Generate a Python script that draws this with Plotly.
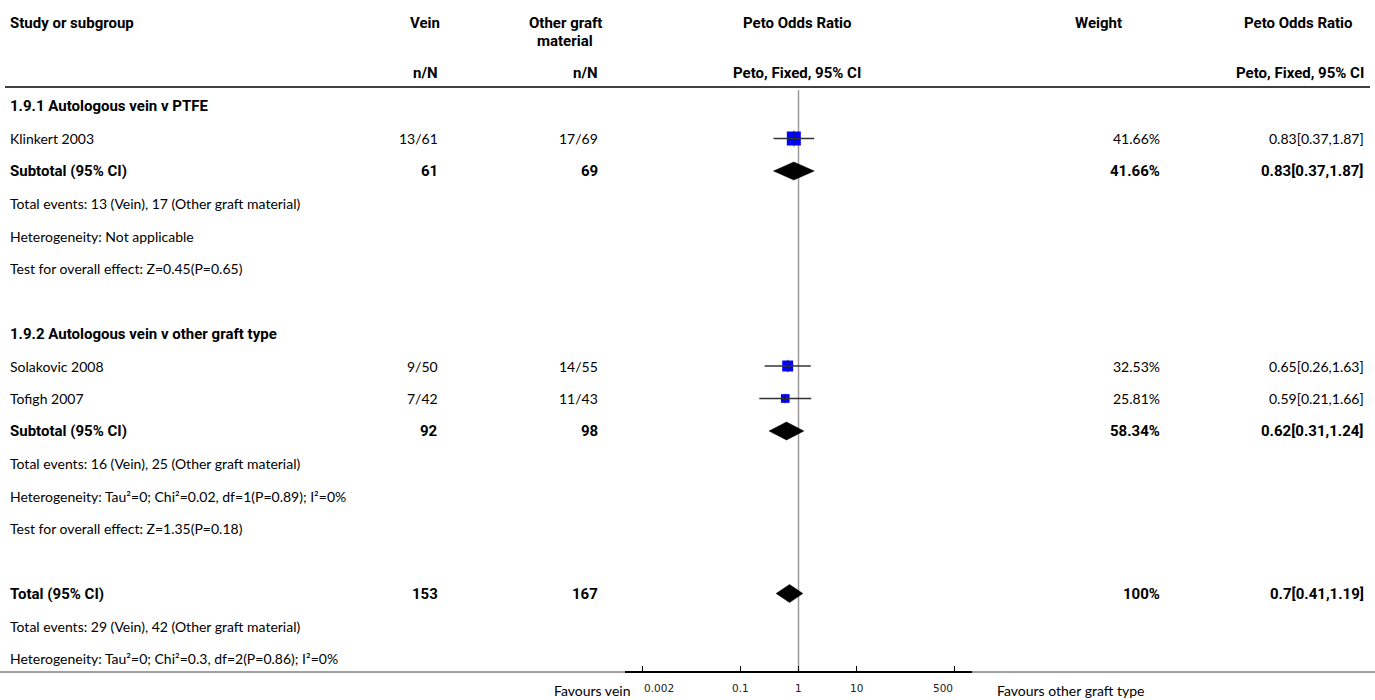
import math
import plotly.graph_objects as go

# ---------------- data ----------------
studies = ["Klinkert 2003", "Solakovic 2008", "Tofigh 2007"]
study_group = [0, 1, 1]
vein_events = [13, 9, 7]
vein_total = [61, 50, 42]
other_events = [17, 14, 11]
other_total = [69, 55, 43]
study_or = [0.83, 0.65, 0.59]
study_lo = [0.37, 0.26, 0.21]
study_hi = [1.87, 1.63, 1.66]
study_weight = [41.66, 32.53, 25.81]

group_titles = ["1.9.1 Autologous vein v PTFE", "1.9.2 Autologous vein v other graft type"]
group_vein_total = [61, 92]
group_other_total = [69, 98]
group_weight = [41.66, 58.34]
group_or = [0.83, 0.62]
group_lo = [0.37, 0.31]
group_hi = [1.87, 1.24]
group_events = ["Total events: 13 (Vein), 17 (Other graft material)",
                "Total events: 16 (Vein), 25 (Other graft material)"]
group_het = ["Heterogeneity: Not applicable",
             "Heterogeneity: Tau²=0; Chi²=0.02, df=1(P=0.89); I²=0%"]
group_test = ["Test for overall effect: Z=0.45(P=0.65)",
              "Test for overall effect: Z=1.35(P=0.18)"]

total_vein = 153
total_other = 167
total_weight = 100
total_or, total_lo, total_hi = 0.7, 0.41, 1.19
total_events = "Total events: 29 (Vein), 42 (Other graft material)"
total_het = "Heterogeneity: Tau²=0; Chi²=0.3, df=2(P=0.86); I²=0%"

tick_vals = [0.002, 0.1, 1, 10, 500]
tick_text = ["0.002", "0.1", "1", "10", "500"]

# ---------------- layout constants ----------------
W, H = 1375, 700
ROW0_PX, ROW_PX = 106, 32.5        # pixel centre of first row, row pitch
AXIS_PX = 672                      # pixel row of the x axis line
PLOT_X0, PLOT_X1 = 625, 972        # pixel extent of the forest axis
FONT = "Lato"
FONT_BOLD = "Roboto"
FS = 14
FS_BOLD = 15
BLUE = "#0000ff"

X_LABEL = 8
X_VEIN = 440
X_OTHER = 600
X_WEIGHT = 1162
X_CI = 1366


def px2row(p):
    return (p - ROW0_PX) / ROW_PX


def fmt_w(w):
    return f"{w:g}%"


def fmt_ci(o, lo, hi):
    return f"{o:g}[{lo:g},{hi:g}]"


fig = go.Figure()
annotations = []


def text(x, row, s, anchor="left", bold=False, yref="y"):
    annotations.append(dict(
        x=x / W, xref="paper", y=row, yref=yref, text=f"<b>{s}</b>" if bold else s,
        showarrow=False, xanchor=anchor, yanchor="middle",
        font=dict(family=FONT_BOLD if bold else FONT,
                  size=FS_BOLD if bold else FS, color="#000")))


# ---------------- rows ----------------
row = 0
study_rows = []
group_rows = []
for g, title in enumerate(group_titles):
    text(X_LABEL, row, title, bold=True)
    row += 1
    for i, name in enumerate(studies):
        if study_group[i] != g:
            continue
        text(X_LABEL, row, name)
        text(X_VEIN, row, f"{vein_events[i]}/{vein_total[i]}", "right")
        text(X_OTHER, row, f"{other_events[i]}/{other_total[i]}", "right")
        text(X_WEIGHT, row, fmt_w(study_weight[i]), "right")
        text(X_CI, row, fmt_ci(study_or[i], study_lo[i], study_hi[i]), "right")
        study_rows.append(row)
        row += 1
    text(X_LABEL, row, "Subtotal (95% CI)", bold=True)
    text(X_VEIN, row, str(group_vein_total[g]), "right", bold=True)
    text(X_OTHER, row, str(group_other_total[g]), "right", bold=True)
    text(X_WEIGHT, row, fmt_w(group_weight[g]), "right", bold=True)
    text(X_CI, row, fmt_ci(group_or[g], group_lo[g], group_hi[g]), "right", bold=True)
    group_rows.append(row)
    row += 1
    for s in (group_events[g], group_het[g], group_test[g]):
        text(X_LABEL, row, s)
        row += 1
    row += 1  # spacer

text(X_LABEL, row, "Total (95% CI)", bold=True)
text(X_VEIN, row, str(total_vein), "right", bold=True)
text(X_OTHER, row, str(total_other), "right", bold=True)
text(X_WEIGHT, row, fmt_w(total_weight), "right", bold=True)
text(X_CI, row, fmt_ci(total_or, total_lo, total_hi), "right", bold=True)
total_row = row
row += 1
for s in (total_events, total_het):
    text(X_LABEL, row, s)
    row += 1

# ---------------- header ----------------
def hdr(x, p, s, anchor):
    text(x, 1 - p / H, s, anchor, bold=True, yref="paper")


hdr(X_LABEL, 23, "Study or subgroup", "left")
hdr(425, 23, "Vein", "center")
hdr(565, 23, "Other graft", "center")
hdr(565, 41, "material", "center")
hdr(797, 23, "Peto Odds Ratio", "center")
hdr(1098, 23, "Weight", "center")
hdr(1298, 23, "Peto Odds Ratio", "center")
hdr(X_VEIN, 73, "n/N", "right")
hdr(X_OTHER, 73, "n/N", "right")
hdr(797, 73, "Peto, Fixed, 95% CI", "center")
hdr(X_CI, 73, "Peto, Fixed, 95% CI", "right")

axis_row = px2row(AXIS_PX)

# ---------------- forest marks ----------------
# line of no effect
fig.add_trace(go.Scatter(x=[1, 1], y=[px2row(90), axis_row], mode="lines",
                         line=dict(color="#9a9a9a", width=1.5), hoverinfo="skip"))

# study squares sized by weight
sq_sizes = [w * 14 / max(study_weight) for w in study_weight]
fig.add_trace(go.Scatter(x=study_or, y=study_rows, mode="markers",
                         marker=dict(symbol="square", size=sq_sizes, color=BLUE,
                                     opacity=1, line=dict(width=0)),
                         hoverinfo="skip"))
# confidence intervals
for o, lo, hi, r in zip(study_or, study_lo, study_hi, study_rows):
    fig.add_trace(go.Scatter(x=[lo, hi], y=[r, r], mode="lines",
                             line=dict(color="#333333", width=1.6), hoverinfo="skip"))
fig.add_trace(go.Scatter(x=study_or, y=study_rows, mode="markers",
                         marker=dict(symbol="line-ns", size=[s * 0.8 for s in sq_sizes],
                                     line=dict(color="#222222", width=1.5)),
                         hoverinfo="skip"))

# pooled diamonds
half_h = 9 / ROW_PX
for o, lo, hi, r in list(zip(group_or, group_lo, group_hi, group_rows)) + \
        [(total_or, total_lo, total_hi, total_row)]:
    fig.add_trace(go.Scatter(x=[lo, o, hi, o, lo], y=[r, r - half_h, r, r + half_h, r],
                             mode="lines", fill="toself", fillcolor="#000",
                             line=dict(color="#000", width=0.5), hoverinfo="skip"))

# axis tick labels
for v, t in zip(tick_vals, tick_text):
    anchor = "left" if v == min(tick_vals) else ("right" if v == max(tick_vals) else "center")
    annotations.append(dict(x=math.log10(v), xref="x", y=1 - 688 / H, yref="paper",
                            text=t, showarrow=False, xanchor=anchor, yanchor="middle",
                            font=dict(family="DejaVu Sans", size=10.5, color="#222")))

annotations.append(dict(x=632 / W, xref="paper", y=1 - 690 / H, yref="paper",
                        text="Favours vein", showarrow=False, xanchor="right",
                        yanchor="middle", font=dict(family=FONT, size=FS, color="#000")))
annotations.append(dict(x=995 / W, xref="paper", y=1 - 690 / H, yref="paper",
                        text="Favours other graft type", showarrow=False, xanchor="left",
                        yanchor="middle", font=dict(family=FONT, size=FS, color="#000")))

shapes = [
    # rule under the header
    dict(type="line", xref="paper", yref="y", x0=5 / W, x1=1370 / W,
         y0=px2row(87), y1=px2row(87), line=dict(color="#000", width=1.5)),
    # bottom rule
    dict(type="line", xref="paper", yref="y", x0=0, x1=1,
         y0=axis_row, y1=axis_row, line=dict(color="#444", width=1), layer="below"),
]

fig.update_layout(
    width=W, height=H,
    margin=dict(l=0, r=0, t=0, b=0),
    paper_bgcolor="white", plot_bgcolor="white",
    showlegend=False,
    annotations=annotations,
    shapes=shapes,
    xaxis=dict(type="log", range=[-3, 3],
               domain=[PLOT_X0 / W, PLOT_X1 / W],
               anchor="free", position=1 - AXIS_PX / H,
               showline=True, linecolor="#000", linewidth=2,
               ticks="inside", ticklen=5, tickwidth=1, tickcolor="#000",
               tickvals=tick_vals, showticklabels=False,
               showgrid=False, zeroline=False, fixedrange=True),
    yaxis=dict(range=[px2row(H), px2row(0)], domain=[0, 1], visible=False,
               showgrid=False, zeroline=False, fixedrange=True),
)

fig.write_html("out.html")
